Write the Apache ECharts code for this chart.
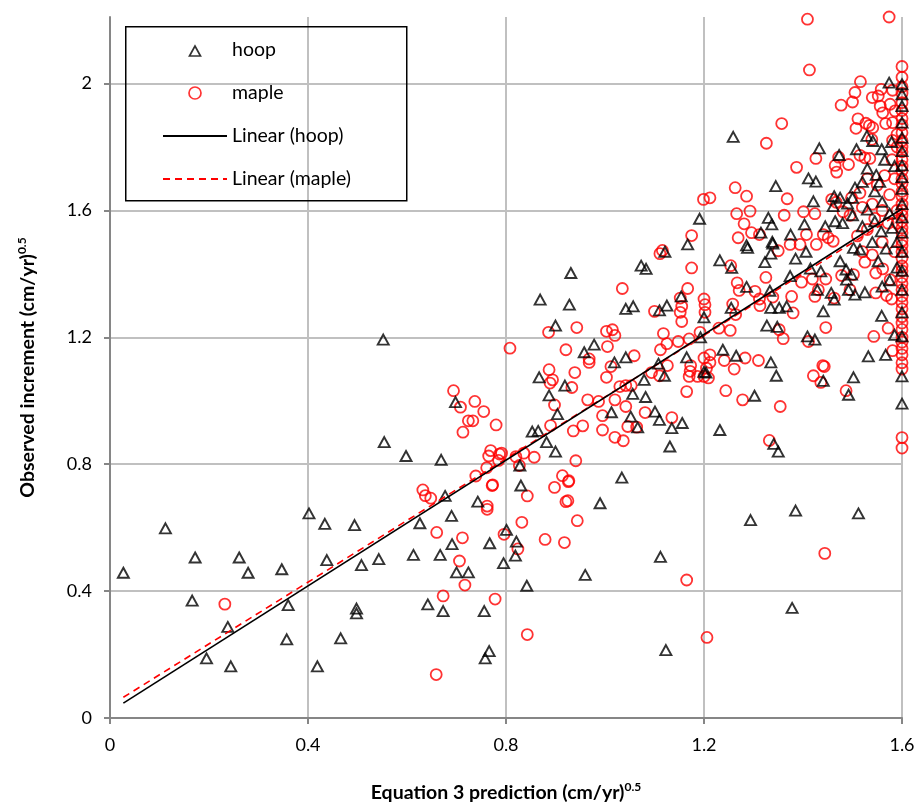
<!DOCTYPE html>
<html><head><meta charset="utf-8">
<script src="https://cdn.jsdelivr.net/npm/echarts@6/dist/echarts.min.js"></script>
<style>html,body{margin:0;padding:0;background:#fff}#c{width:920px;height:804px}</style>
</head><body><div id="c"></div><script>
const seriesNames = ['hoop', 'maple', 'Linear (hoop)', 'Linear (maple)'];
const hoopPoints = [
[0.027,0.458],[0.112,0.598],[0.172,0.506],[0.261,0.506],[0.279,0.458],[0.347,0.469],[0.166,0.370],[0.238,0.287],[0.360,0.356],[0.357,0.248],[0.195,0.188],[0.244,0.163],
[0.402,0.645],[0.434,0.612],[0.494,0.608],[0.677,0.700],[0.743,0.682],[0.626,0.614],[0.690,0.637],[0.691,0.548],[0.767,0.551],[0.801,0.593],[0.438,0.498],[0.508,0.482],[0.543,0.501],[0.613,0.514],[0.667,0.514],[0.700,0.459],[0.724,0.459],[0.795,0.488],[0.498,0.345],[0.498,0.330],[0.642,0.358],[0.673,0.337],[0.756,0.337],[0.466,0.251],[0.419,0.163],[0.766,0.211],[0.758,0.188],
[0.830,0.733],[1.034,0.758],[0.990,0.677],[0.821,0.556],[0.819,0.512],[0.842,0.417],[0.960,0.451],[1.112,0.508],[1.123,0.214],
[1.294,0.624],[1.385,0.654],[1.512,0.645],[1.378,0.347],
[0.552,1.193],[0.698,0.996],[0.554,0.870],[0.598,0.826],[0.669,0.814],
[0.931,1.403],[0.869,1.319],[0.928,1.303],[0.900,1.237],[1.073,1.426],[1.083,1.416],[1.121,1.470],[1.167,1.493],[1.042,1.290],[1.057,1.298],[1.110,1.285],[1.125,1.300],[1.154,1.329],[1.200,1.263],[0.978,1.177],[0.958,1.153],[1.019,1.121],[1.042,1.137],[0.867,1.074],[0.919,1.048],[0.887,1.017],[0.904,0.958],[1.079,1.066],[1.056,1.022],[1.082,1.012],[1.108,1.117],[1.120,1.079],[1.165,1.137],[1.193,1.200],[1.200,1.091],[1.013,0.964],[1.052,0.950],[1.101,0.966],[1.110,0.940],[1.135,0.914],[1.156,0.930],[1.131,0.856],[1.066,0.916],[0.853,0.903],[0.865,0.905],[0.882,0.870],[0.900,0.840],[0.828,0.796],
[1.288,1.482],[1.339,1.496],[1.232,1.443],[1.256,1.419],[1.323,1.437],[1.335,1.464],[1.385,1.448],[1.406,1.470],[1.286,1.359],[1.333,1.347],[1.374,1.393],[1.415,1.417],[1.436,1.408],[1.429,1.350],[1.255,1.293],[1.335,1.293],[1.352,1.293],[1.367,1.298],[1.441,1.282],[1.457,1.340],[1.463,1.319],[1.475,1.440],[1.487,1.414],[1.498,1.398],[1.488,1.382],[1.492,1.350],[1.505,1.335],[1.525,1.342],[1.515,1.477],[1.502,1.482],[1.552,1.440],[1.327,1.237],[1.348,1.233],[1.409,1.203],[1.424,1.193],[1.559,1.268],[1.585,1.208],[1.238,1.161],[1.265,1.142],[1.335,1.121],[1.346,1.079],[1.204,1.089],[1.441,1.063],[1.502,1.074],[1.532,1.140],[1.567,1.145],[1.302,1.016],[1.492,1.019],[1.232,0.908],[1.341,0.864],[1.350,0.840],
[1.259,1.832],[1.433,1.796],[1.345,1.677],[1.411,1.701],[1.426,1.691],[1.473,1.775],[1.508,1.793],[1.529,1.835],[1.541,1.819],[1.559,1.793],[1.579,1.816],[1.574,2.003],[1.421,1.629],[1.463,1.645],[1.475,1.640],[1.461,1.614],[1.330,1.577],[1.337,1.556],[1.315,1.530],[1.375,1.524],[1.403,1.556],[1.465,1.566],[1.445,1.550],[1.286,1.490],[1.338,1.501],[1.191,1.574],
[1.530,1.732],[1.548,1.712],[1.555,1.690],[1.520,1.690],[1.505,1.672],[1.545,1.660],[1.490,1.622],[1.500,1.640],[1.530,1.603],[1.560,1.627],[1.575,1.590],[1.545,1.566],[1.520,1.550],[1.558,1.534],[1.580,1.545],[1.585,1.740],[1.565,1.760],[1.500,1.585],[1.480,1.560],[1.540,1.500],[1.568,1.480],[1.590,1.500],[1.590,1.420],[1.575,1.380],[1.560,1.360]
];
const hoopEdgeY = [1.998,1.966,1.929,1.877,1.829,1.787,1.742,1.705,1.668,1.62,1.578,1.53,1.47,1.41,1.35,1.279,1.203,1.077,0.991];
const maplePoints = [
[0.232,0.359],
[0.632,0.719],[0.637,0.701],[0.648,0.693],[0.772,0.733],[0.762,0.668],[0.762,0.658],[0.660,0.585],[0.712,0.568],[0.796,0.579],[0.706,0.495],[0.717,0.419],[0.673,0.385],[0.778,0.375],[0.659,0.137],
[0.898,0.727],[0.926,0.745],[0.843,0.700],[0.921,0.682],[0.925,0.685],[0.944,0.622],[0.832,0.617],[0.879,0.563],[0.918,0.553],[0.824,0.533],[1.165,0.435],[0.843,0.263],[1.206,0.254],
[1.444,0.519],
[0.694,1.032],[0.708,0.980],[0.737,0.998],[0.755,0.966],[0.724,0.937],[0.733,0.937],[0.713,0.901],[0.780,0.924],[0.808,1.166],[0.769,0.843],[0.765,0.826],[0.787,0.832],[0.785,0.812],[0.761,0.789],[0.739,0.763],[0.773,0.735],
[1.111,1.464],[1.175,1.419],[1.035,1.354],[1.167,1.354],[1.152,1.324],[1.155,1.298],[1.152,1.279],[1.155,1.250],[1.200,1.321],[1.202,1.303],[1.202,1.279],[1.100,1.282],[0.943,1.231],[0.886,1.216],[1.003,1.219],[1.015,1.224],[1.020,1.206],[1.118,1.212],[1.192,1.216],[1.148,1.187],[1.170,1.195],[0.921,1.161],[1.005,1.171],[1.125,1.180],[1.112,1.161],[1.059,1.142],[0.968,1.132],[0.968,1.121],[1.012,1.108],[1.126,1.111],[1.173,1.111],[1.172,1.093],[1.170,1.077],[1.200,1.135],[1.205,1.103],[1.200,1.077],[0.887,1.098],[0.894,1.066],[0.889,1.056],[0.939,1.089],[0.933,1.042],[1.003,1.074],[1.094,1.089],[1.110,1.079],[1.187,1.077],[1.030,1.045],[1.042,1.048],[1.053,1.048],[1.165,1.029],[0.965,1.003],[0.987,0.998],[1.020,1.003],[1.042,0.982],[0.898,0.987],[1.081,0.963],[0.995,0.953],[1.135,0.947],[0.890,0.922],[0.955,0.921],[0.936,0.905],[1.046,0.919],[1.064,0.917],[0.995,0.908],[1.020,0.885],[1.037,0.874],[0.791,0.835],[0.836,0.835],[0.857,0.822],[0.820,0.824],[0.827,0.796],[0.941,0.811],[0.914,0.764],[0.927,0.748],
[1.254,1.426],[1.267,1.372],[1.271,1.348],[1.325,1.389],[1.350,1.473],[1.303,1.345],[1.312,1.321],[1.313,1.300],[1.258,1.305],[1.264,1.272],[1.339,1.327],[1.377,1.329],[1.380,1.277],[1.397,1.374],[1.424,1.329],[1.431,1.350],[1.419,1.384],[1.446,1.384],[1.463,1.324],[1.495,1.350],[1.547,1.340],[1.569,1.332],[1.579,1.321],[1.576,1.382],[1.547,1.403],[1.561,1.416],[1.525,1.437],[1.478,1.395],[1.502,1.398],[1.230,1.229],[1.253,1.222],[1.352,1.224],[1.360,1.196],[1.446,1.231],[1.411,1.187],[1.543,1.203],[1.572,1.229],[1.581,1.158],[1.212,1.145],[1.212,1.121],[1.209,1.072],[1.241,1.127],[1.283,1.135],[1.310,1.127],[1.261,1.100],[1.244,1.032],[1.278,1.003],[1.354,0.982],[1.440,1.111],[1.443,1.108],[1.421,1.079],[1.436,1.058],[1.487,1.032],[1.332,0.875],
[1.409,2.203],[1.574,2.210],[1.413,2.043],[1.516,2.006],[1.505,1.972],[1.500,1.942],[1.477,1.932],[1.540,1.956],[1.552,1.961],[1.558,1.982],[1.581,1.979],[1.576,1.935],[1.556,1.929],[1.561,1.908],[1.586,1.914],[1.511,1.889],[1.507,1.859],[1.527,1.875],[1.534,1.868],[1.541,1.861],[1.567,1.874],[1.581,1.877],[1.357,1.874],[1.326,1.812],[1.539,1.824],[1.581,1.821],[1.426,1.764],[1.387,1.736],[1.472,1.768],[1.465,1.742],[1.468,1.721],[1.492,1.745],[1.515,1.774],[1.525,1.766],[1.535,1.764],[1.263,1.672],[1.286,1.645],[1.368,1.637],[1.199,1.635],[1.212,1.640],[1.266,1.590],[1.293,1.598],[1.362,1.585],[1.401,1.596],[1.424,1.590],[1.458,1.635],[1.467,1.626],[1.481,1.596],[1.281,1.558],[1.296,1.530],[1.269,1.514],[1.312,1.524],[1.407,1.524],[1.441,1.524],[1.451,1.514],[1.461,1.503],[1.374,1.493],[1.394,1.493],[1.427,1.493],[1.175,1.521],[1.116,1.474],
[1.530,1.700],[1.565,1.710],[1.550,1.680],[1.515,1.655],[1.498,1.640],[1.575,1.650],[1.585,1.700],[1.540,1.620],[1.560,1.600],[1.520,1.610],[1.495,1.585],[1.545,1.575],[1.572,1.560],[1.530,1.540],[1.510,1.520],[1.560,1.500],[1.585,1.470],[1.540,1.460],[1.520,1.470],[1.590,1.600],[1.590,1.560],[1.580,1.760],[1.590,1.800],[1.590,1.840]
];
const mapleEdgeY = [2.054,2.02,1.99,1.97,1.94,1.915,1.89,1.87,1.845,1.82,1.80,1.785,1.76,1.74,1.725,1.70,1.685,1.66,1.645,1.62,1.60,1.585,1.565,1.545,1.53,1.505,1.49,1.47,1.45,1.425,1.41,1.39,1.37,1.35,1.33,1.31,1.29,1.265,1.245,1.225,1.20,1.185,1.165,1.145,1.12,1.10,0.884,0.851];
const edgeX = 1.6;
const hoopTrend = [0.991, 0.020];   // slope, intercept
const mapleTrend = [0.973, 0.039];
const trendXRange = [0.027, 1.6];
const xTicks = [0, 0.4, 0.8, 1.2, 1.6];
const yTicks = [0, 0.4, 0.8, 1.2, 1.6, 2];
const yMax = 2.21;

const hoopData = hoopPoints.concat(hoopEdgeY.map(y => [edgeX, y]));
const mapleData = maplePoints.concat(mapleEdgeY.map(y => [edgeX, y]));
const trend = c => trendXRange.map(x => [x, c[0] * x + c[1]]);

const FONT = 'Lato, "Open Sans", sans-serif';
const titleRich = {
  a: { fontFamily: FONT, fontSize: 19.5, fontWeight: 'bold', color: '#000', lineHeight: 24 },
  s: { fontFamily: FONT, fontSize: 12, fontWeight: 'bold', color: '#000', verticalAlign: 'top', lineHeight: 24, padding: [0, 0, 9, 0] }
};
const axisLine = { show: true, onZero: false, lineStyle: { color: '#868686', width: 2 } };
const labelStyle = { fontFamily: FONT, fontSize: 18, color: '#000' };
// legend triangle: path whose bounding box fills the 64x12 icon cell, with a small triangle in the middle
const legendTriangle = 'path://M0,12L0.01,12ZM64,0L64.01,0ZM26.5,12L32,2L37.5,12Z';
const hiddenMarker = { color: 'transparent', borderColor: 'transparent', borderWidth: 0, opacity: 0 };
const chart = echarts.init(document.getElementById('c'));
chart.setOption({
  animation: false,
  backgroundColor: '#fff',
  grid: { left: 110, right: 18, top: 17, bottom: 86, containLabel: false, outerBoundsMode: 'none' },
  xAxis: {
    type: 'value', min: xTicks[0], max: xTicks[xTicks.length - 1], interval: 0.4,
    name: '{a|Equation 3 prediction (cm/yr)}{s|0.5}', nameLocation: 'middle', nameGap: 63, nameMoveOverlap: false,
    nameTextStyle: { rich: titleRich },
    axisLine: axisLine,
    axisTick: { show: true, inside: false, length: 6, lineStyle: { color: '#868686', width: 2 } },
    axisLabel: Object.assign({ margin: 18 }, labelStyle),
    splitLine: { show: true, lineStyle: { color: '#c0c0c0', width: 2 } }
  },
  yAxis: {
    type: 'value', min: yTicks[0], max: yMax, interval: 0.4,
    name: '{a|Observed increment (cm/yr)}{s|0.5}', nameLocation: 'middle', nameGap: 70, nameRotate: 90, nameMoveOverlap: false,
    nameTextStyle: { rich: titleRich },
    axisLine: axisLine,
    axisTick: { show: true, inside: false, length: 6, customValues: yTicks, lineStyle: { color: '#868686', width: 2 } },
    axisLabel: Object.assign({ margin: 18, customValues: yTicks }, labelStyle),
    splitLine: { show: true, lineStyle: { color: '#c0c0c0', width: 2 } }
  },
  legend: {
    orient: 'vertical', left: 157, top: 35, itemWidth: 64, itemHeight: 12, itemGap: 23, itemTextGap: 4,
    textStyle: { fontFamily: FONT, fontSize: 19.5, color: '#000', lineHeight: 20 },
    data: [
      { name: seriesNames[0], icon: legendTriangle, itemStyle: { color: 'transparent', borderColor: '#000', borderWidth: 1.7 } },
      { name: seriesNames[1], icon: 'circle', itemStyle: { color: 'transparent', borderColor: '#ff0000', borderWidth: 1.7 } },
      { name: seriesNames[2], itemStyle: hiddenMarker },
      { name: seriesNames[3], itemStyle: hiddenMarker }
    ]
  },
  graphic: [{ type: 'rect', left: 125, top: 26, shape: { width: 281, height: 174 }, style: { fill: 'transparent', stroke: '#000', lineWidth: 1.5 }, z: 100 }],
  series: [
    { name: seriesNames[0], type: 'scatter', data: hoopData, symbol: 'triangle', symbolSize: [11, 10],
      itemStyle: { color: 'transparent', borderColor: '#000', borderWidth: 1.9 }, z: 3 },
    { name: seriesNames[1], type: 'scatter', data: mapleData, symbol: 'circle', symbolSize: 11,
      itemStyle: { color: 'transparent', borderColor: '#ff0000', borderWidth: 1.8 }, z: 2 },
    { name: seriesNames[2], type: 'line', data: trend(hoopTrend), symbol: 'none', lineStyle: { color: '#000', width: 1.6 }, itemStyle: { color: '#000' }, z: 5 },
    { name: seriesNames[3], type: 'line', data: trend(mapleTrend), symbol: 'none', lineStyle: { color: '#ff0000', width: 1.6, type: [7, 5] }, itemStyle: { color: '#ff0000' }, z: 4 }
  ]
});
</script></body></html>
